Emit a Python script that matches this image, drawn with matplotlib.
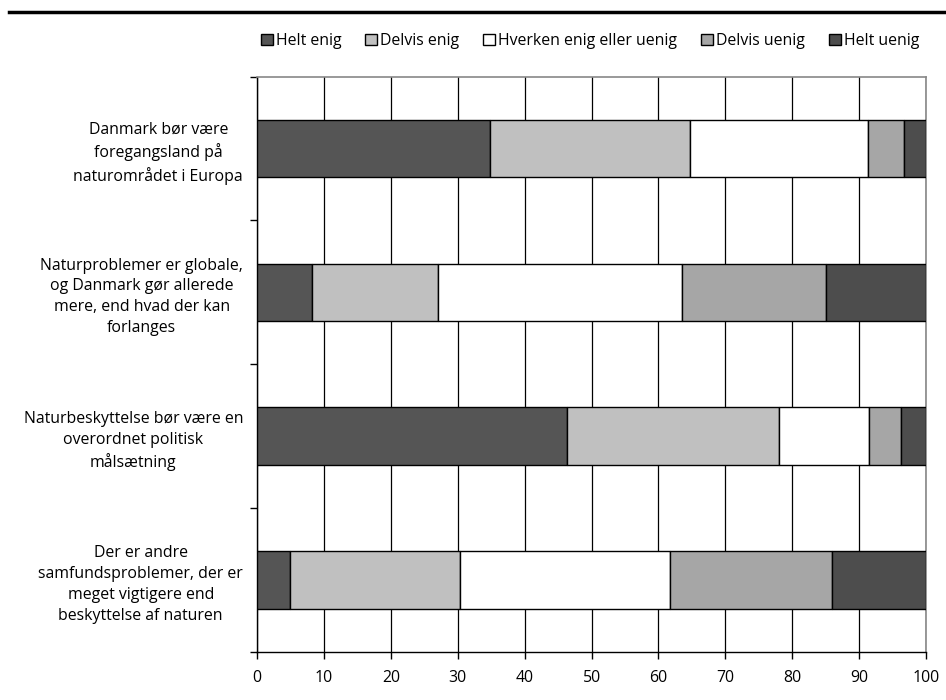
import matplotlib
matplotlib.use("Agg")
import matplotlib.pyplot as plt
from matplotlib.lines import Line2D
from matplotlib.patches import Patch
import numpy as np

plt.rcParams['font.family'] = ['Open Sans', 'DejaVu Sans']

statements = [
    "Danmark bør være\nforegangsland på\nnaturområdet i Europa",
    "Naturproblemer er globale,\nog Danmark gør allerede\nmere, end hvad der kan\nforlanges",
    "Naturbeskyttelse bør være en\noverordnet politisk\nmålsætning",
    "Der er andre\nsamfundsproblemer, der er\nmeget vigtigere end\nbeskyttelse af naturen",
]
answers = ["Helt enig", "Delvis enig", "Hverken enig eller uenig", "Delvis uenig", "Helt uenig"]
colors = ["#555555", "#c0c0c0", "#ffffff", "#a6a6a6", "#4d4d4d"]

# percent per answer, one value per statement
helt_enig    = [34.9,  8.2, 46.3,  5.0]
delvis_enig  = [29.8, 18.9, 31.8, 25.3]
hverken      = [26.7, 36.4, 13.4, 31.4]
delvis_uenig = [ 5.3, 21.6,  4.8, 24.2]
helt_uenig   = [ 3.3, 14.9,  3.7, 14.1]
series = [helt_enig, delvis_enig, hverken, delvis_uenig, helt_uenig]

fs = 11.4

fig = plt.figure(figsize=(9.46, 7.0), dpi=100)
ax = fig.add_axes([257/946, 1 - 652/700, (926 - 257)/946, (652 - 76.5)/700])

y = np.arange(len(statements))
left = np.zeros(len(statements))
for vals, col, name in zip(series, colors, answers):
    ax.barh(y, vals, left=left, height=0.4, color=col, edgecolor="black",
            linewidth=1.0, label=name, zorder=3)
    left += np.array(vals)

ax.set_xlim(0, 100)
ax.set_ylim(len(statements) - 0.5, -0.5)
ax.set_xticks(np.arange(0, 101, 10))
ax.tick_params(axis="x", direction="out", length=5, width=1, labelsize=fs, pad=8)
ax.grid(axis="x", color="black", linewidth=0.9, zorder=0)

ax.set_yticks(y)
ax.set_yticklabels(statements, ha="right", multialignment="center", fontsize=fs,
                   linespacing=1.4)
ax.tick_params(axis="y", which="major", length=0, pad=10)
ax.set_yticks(np.arange(-0.5, len(statements)), minor=True)
ax.tick_params(axis="y", which="minor", direction="out", length=5, width=1)

for s in ["top", "right"]:
    ax.spines[s].set_color("#888888")
    ax.spines[s].set_linewidth(1.2)
for s in ["left", "bottom"]:
    ax.spines[s].set_color("black")
    ax.spines[s].set_linewidth(1.0)

handles = [Patch(facecolor=c, edgecolor="black", linewidth=1.0) for c in colors]
fig.legend(handles, answers, loc="center", bbox_to_anchor=(590/946, 1 - 41/700),
           ncol=5, frameon=False, fontsize=fs, handlelength=0.75, handleheight=0.75,
           handletextpad=0.2, columnspacing=1.5)

fig.add_artist(Line2D([9/946, 1.0], [1 - 12/700, 1 - 12/700], color="black",
                      linewidth=2.5, transform=fig.transFigure))

fig.savefig("out.png", dpi=100)
